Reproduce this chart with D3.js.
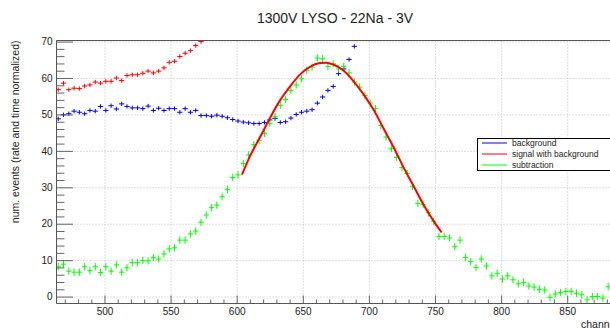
<!DOCTYPE html>
<html>
<head>
<meta charset="utf-8">
<script src="https://cdn.jsdelivr.net/npm/d3@7"></script>
<style>
  body { margin: 0; background: #fff; }
  text { font-family: "Liberation Sans", Arial, Helvetica, sans-serif; }
</style>
</head>
<body>
<script>
// histogram bins: 4 channels wide, first bin centre at 465
var binStart = 465;
var binWidth = 4;

var bgValues = [48.8, 49.9, 50.2, 50.9, 50.6, 50.2, 51.1, 50.9, 52.2, 51.1,
  52.4, 51.5, 52.9, 52.2, 51.8, 51.8, 51.6, 52.3, 51.1, 51.7,
  51.1, 51.6, 51.6, 50.6, 51.6, 50.6, 51.1, 49.7, 49.7, 49.5,
  49.8, 49.5, 49.1, 48.6, 48.2, 47.9, 47.7, 47.5, 47.5, 47.8,
  48.5, 48.9, 47.8, 48.0, 49.0, 50.0, 50.6, 50.9, 51.3, 53.1,
  54.8, 56.6, 57.7, 61.2, 62.5, 65.1, 68.7];

var sigValues = [56.8, 58.6, 56.8, 57.2, 57.1, 57.8, 58.1, 58.9, 58.6, 59.1,
  59.1, 60.0, 59.3, 60.7, 60.9, 60.9, 61.3, 61.9, 61.4, 61.9,
  62.8, 64.3, 64.6, 65.9, 66.8, 67.5, 68.9, 70.0];

var subValues = [8.2, 8.9, 7.0, 6.7, 6.7, 8.2, 7.1, 8.2, 6.6, 8.2,
  7.0, 8.7, 6.7, 7.9, 9.3, 9.3, 9.9, 9.8, 10.7, 10.3,
  11.7, 13.1, 13.4, 15.5, 15.5, 17.2, 18.0, 20.4, 22.4, 24.4,
  25.1, 27.4, 29.4, 32.7, 33.4, 36.5, 38.9, 41.7, 42.9, 44.8,
  47.5, 49.4, 52.5, 54.1, 56.6, 58.1, 59.8, 62.1, 63.0, 65.5,
  65.3, 63.2, 63.9, 62.5, 63.2, 61.4, 58.9, 57.5, 55.2, 53.1,
  51.6, 47.0, 43.8, 40.6, 38.2, 35.4, 33.8, 30.3, 25.6, 25.3,
  23.0, 20.7, 16.5, 16.5, 16.1, 13.7, 15.5, 10.7, 9.6, 8.0,
  10.3, 8.4, 5.7, 6.4, 4.8, 5.7, 4.6, 3.5, 3.9, 2.9,
  2.6, 2.0, 1.8, -0.2, 0.7, 1.1, 1.4, 1.4, 0.9, 0.5,
  -0.9, 0.0, 0.0, -0.4, 2.7];

// fit curve
var fitChannels = [604, 610, 618, 626, 633, 641, 648, 656, 663, 668, 673,
  681, 688, 696, 704, 711, 719, 726, 734, 741, 749, 755];
var fitValues = [33.5, 38.5, 44.0, 49.6, 54.0, 58.0, 61.0, 63.2, 64.1, 64.2, 63.7,
  62.0, 59.3, 55.5, 51.0, 46.2, 40.8, 35.6, 30.2, 25.4, 20.7, 17.6];

var xTicks = [500, 550, 600, 650, 700, 750, 800, 850];
var yTicks = [0, 10, 20, 30, 40, 50, 60, 70];
var legendLabels = ["background", "signal with background", "subtraction"];
var legendColors = ["#0000ff", "#ff0000", "#00ff00"];

var width = 610, height = 329;
var frameL = 56.5, frameR = 611.5, frameT = 40.5, frameB = 303.5;

var svg = d3.select("body").append("svg")
  .attr("width", width)
  .attr("height", height)
  .style("display", "block")
  .style("background", "#fff");

var x = d3.scaleLinear().domain([463.7, 883.5]).range([frameL, frameR]);
var y = d3.scaleLinear().domain([-1.9, 70.3]).range([frameB, frameT]);

// grid
var gx = svg.append("g")
  .attr("transform", "translate(0," + frameB + ")")
  .call(d3.axisBottom(x).tickValues(xTicks).tickSize(-(frameB - frameT)).tickFormat(""));
var gy = svg.append("g")
  .attr("transform", "translate(" + frameL + ",0)")
  .call(d3.axisLeft(y).tickValues(yTicks).tickSize(-(frameR - frameL)).tickFormat(""));
[gx, gy].forEach(function (g) {
  g.select(".domain").remove();
  g.selectAll("line").attr("stroke", "#bdbdbd").attr("stroke-dasharray", "1,2");
});

// data
svg.append("clipPath").attr("id", "frame")
  .append("rect").attr("x", frameL).attr("y", frameT)
  .attr("width", frameR - frameL).attr("height", frameB - frameT);

var plot = svg.append("g").attr("clip-path", "url(#frame)");

function drawHist(values, color, err) {
  var pts = values.map(function (v, i) { return { c: binStart + i * binWidth, v: v }; });
  plot.append("g").selectAll("path").data(pts).join("path")
    .attr("d", function (d) {
      return "M" + x(d.c - binWidth / 2) + "," + y(d.v) + "H" + x(d.c + binWidth / 2) +
        "M" + x(d.c) + "," + y(d.v - err) + "V" + y(d.v + err);
    })
    .attr("fill", "none")
    .attr("stroke", color)
    .attr("stroke-width", 1);
}

drawHist(sigValues, "#ff0000", 0.6);
drawHist(bgValues, "#0000ff", 0.6);
drawHist(subValues, "#00ff00", 1.0);

var fitLine = d3.line()
  .x(function (d, i) { return x(fitChannels[i]); })
  .y(function (d) { return y(d); })
  .curve(d3.curveMonotoneX);

plot.append("path")
  .attr("d", fitLine(fitValues))
  .attr("fill", "none")
  .attr("stroke", "#ff0000")
  .attr("stroke-width", 2);

// axes (ROOT style, ticks pointing inward)
var minorY = d3.range(0, 71, 2).filter(function (v) { return v % 10 !== 0; });
var minorX = d3.range(470, 884, 10).filter(function (v) { return v % 50 !== 0; });

var ay = svg.append("g").attr("transform", "translate(" + frameL + ",0)")
  .call(d3.axisLeft(y).tickValues(yTicks).tickSize(-16.5).tickPadding(4));
var ayMinor = svg.append("g").attr("transform", "translate(" + frameL + ",0)")
  .call(d3.axisLeft(y).tickValues(minorY).tickSize(-8).tickFormat(""));
var ax = svg.append("g").attr("transform", "translate(0," + frameB + ")")
  .call(d3.axisBottom(x).tickValues(xTicks).tickSize(-8).tickPadding(4.5));
var axMinor = svg.append("g").attr("transform", "translate(0," + frameB + ")")
  .call(d3.axisBottom(x).tickValues(minorX).tickSize(-4).tickFormat(""));

[ay, ayMinor, ax, axMinor].forEach(function (g) {
  g.select(".domain").remove();
  g.selectAll("line").attr("stroke", "#666");
  g.selectAll("text").attr("font-size", "10px").attr("fill", "#222")
    .style("font-family", "'Liberation Sans', Arial, sans-serif");
});

// frame
svg.append("path")
  .attr("d", "M" + (frameR + 2) + "," + frameT + "H" + frameL + "V" + frameB + "H" + (frameR + 2))
  .attr("fill", "none")
  .attr("stroke", "#555")
  .attr("stroke-width", 1);

// titles
svg.append("text")
  .attr("x", 335).attr("y", 23)
  .attr("text-anchor", "middle")
  .attr("font-size", "14px")
  .attr("fill", "#222")
  .text("1300V LYSO - 22Na - 3V");

svg.append("text")
  .attr("transform", "translate(18.5," + frameT + ") rotate(-90)")
  .attr("text-anchor", "end")
  .attr("font-size", "10.5px")
  .attr("fill", "#222")
  .text("num. events (rate and time normalized)");

svg.append("text")
  .attr("x", 581).attr("y", 328)
  .attr("font-size", "10.5px")
  .attr("fill", "#222")
  .text("channel");

// legend
var legend = svg.append("g");
legend.append("rect")
  .attr("x", 477.5).attr("y", 138.5)
  .attr("width", 140).attr("height", 32)
  .attr("fill", "#fff")
  .attr("stroke", "#000")
  .attr("stroke-width", 1);

var rowY = d3.scalePoint().domain(legendLabels).range([143, 165]);

legendLabels.forEach(function (lab, i) {
  legend.append("line")
    .attr("x1", 482).attr("x2", 507)
    .attr("y1", rowY(lab)).attr("y2", rowY(lab))
    .attr("stroke", legendColors[i])
    .attr("stroke-width", 1);
  legend.append("text")
    .attr("x", 512).attr("y", rowY(lab) + 3)
    .attr("font-size", "8.5px")
    .attr("fill", "#222")
    .text(lab);
});
</script>
</body>
</html>
